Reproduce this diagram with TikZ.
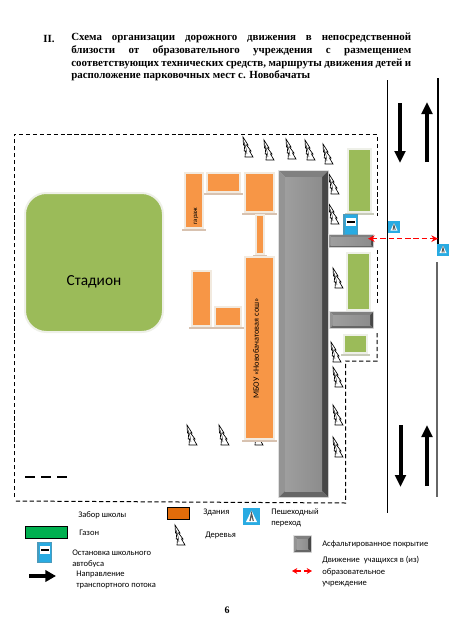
\documentclass[tikz,border=0pt]{standalone}
\usepackage{fontspec}
\usepackage{xcolor}
\setmainfont{Carlito}
\newfontfamily\headfont{Liberation Serif}
\usetikzlibrary{arrows.meta,positioning}
\definecolor{bldg}{HTML}{F79646}
\definecolor{bldgedge}{HTML}{F2EADF}
\definecolor{bldgfoot}{HTML}{D8C2B0}
\definecolor{lawn}{HTML}{9BBB59}
\definecolor{lawnedge}{HTML}{EEF0E8}
\definecolor{lawnfoot}{HTML}{C8CBBA}
\definecolor{signblue}{HTML}{29ABE2}
\definecolor{keylawn}{HTML}{00B050}
\definecolor{keybldg}{HTML}{E36C0A}
\newcommand{\asphalt}[5]{%
	\fill[black!12] (#1-1,#2-1) rectangle (#3+1,#4+1);
	\fill[black!50] (#1,#2) -- (#3,#2) -- (#3-#5,#2+#5) -- (#1+#5,#2+#5) -- cycle;
	\fill[black!42] (#1,#2) -- (#1+#5,#2+#5) -- (#1+#5,#4-#5) -- (#1,#4) -- cycle;
	\fill[black!72] (#3,#2) -- (#3-#5,#2+#5) -- (#3-#5,#4-#5) -- (#3,#4) -- cycle;
	\fill[black!60] (#1,#4) -- (#1+#5,#4-#5) -- (#3-#5,#4-#5) -- (#3,#4) -- cycle;
	\shade[left color=black!38, middle color=black!16, right color=black!45] (#1+#5,#2+#5) rectangle (#3-#5,#4-#5);
}
\begin{document}
\begin{tikzpicture}[
		x=0.75pt, y=-0.75pt,
		>=Stealth,
		fence/.style={draw, line width=0.75pt, dash pattern=on 3.2pt off 2pt},
		road/.style={draw, line width=1pt},
		traffic/.style={-{Triangle[length=9pt,width=8pt]}, line width=3pt},
		house/.style={draw=bldgedge, line width=2.2pt, fill=bldg},
		green/.style={draw=lawnedge, line width=2.2pt, fill=lawn},
		keytext/.style={anchor=west, inner sep=0pt, font=\fontsize{6.4}{8}\selectfont},
		schoolway/.style={{Stealth[length=5pt,width=5pt]}-{Stealth[length=5pt,width=5pt]}, draw=red, line width=1pt, dash pattern=on 4pt off 2.2pt},
		treeicon/.pic={
			\draw[fill=white, line width=0.5pt] (0,0) -- (5,8) -- (3.5,8) -- (8,14) -- (6.5,14) -- (10,20) -- (2,20) -- (2.5,14) -- (1.2,14) -- (1.8,8) -- (0.5,8) -- cycle;
			\draw[line width=0.3pt] (1,5) -- (3,11) -- (4,17);
		},
		crossing/.pic={
			\fill[signblue] (-6,-6) rectangle (6,6);
			\fill[white] (-3.6,3.6) -- (0,-4) -- (3.6,3.6) -- cycle;
			\draw[line width=0.7pt, gray!70!black] (-1,3) -- (0,-2) -- (1.2,3);
		},
		keycrossing/.pic={
			\fill[signblue] (-8.5,-8.5) rectangle (8.5,8.5);
			\fill[white] (-5.5,5.5) -- (0,-6) -- (5.5,5.5) -- cycle;
			\draw[line width=0.9pt, gray!70!black] (-1.5,4.5) -- (0,-3) -- (1.8,4.5);
		},
		busstop/.pic={
			\fill[signblue!60!gray] (-7.5,0) rectangle (7.5,21);
			\fill[signblue] (-6,1) rectangle (6,20);
			\fill[white] (-5,4) rectangle (5,12);
			\fill[black] (-4,7) rectangle (4,9);
		}
	]
	\useasboundingbox (0,0) rectangle (454,643);

	\node[inner sep=0pt, anchor=west, font=\headfont\bfseries\fontsize{8.2}{9.5}\selectfont] (item) at (43,38.5) {II.};
	\node[inner sep=0pt, anchor=north west, text width=255pt, align=justify, font=\headfont\bfseries\fontsize{8.2}{9.5}\selectfont] (title) at (71,33)
	{Схема организации дорожного движения в непосредственной\linebreak
		близости от образовательного учреждения с размещением\linebreak
		соответствующих технических средств, маршруты движения детей и\linebreak
		расположение парковочных мест с. Новобачаты};

	% fence
	\draw[fence] (14,497) -- (14,134.5) -- (377,134.5) -- (377,216);
	\draw[fence] (377,250) -- (377,305);
	\draw[fence] (377,333) -- (377,361) -- (345.5,361) -- (345.5,503) -- (14,501);

	% road
	\draw[road] (387.5,80) -- (387.5,513);
	\draw[road] (438,78) -- (438,250);
	\draw[road, draw=black!60] (437,262) -- (437,497);
	\draw[traffic] (400,103) -- (400,163);
	\draw[traffic] (427,162) -- (427,102);
	\draw[traffic] (400.5,425) -- (400.5,487);
	\draw[traffic] (427,486) -- (427,425);

	% stadium
	\draw[draw=lawnedge, line width=1.5pt, fill=lawn, rounded corners=16pt] (25,193) rectangle (163,332);
	\node[font=\fontsize{11.5}{13}\selectfont] (stadium) at (94,282) {Стадион};

	% trees
	\foreach \tx/\ty in {243/137,264/140,286/139,305/140,323/144,329/174,329/204,333/268,331/342,333/367,333/405,333/437,187/425,219/425,253/425}
		\pic at (\tx,\ty) {treeicon};

	% buildings
	\foreach \xa/\ya/\xb/\yb in {185/173/203/228,207/173/240/192,245/173/274/212,256/215/264/254,245/257/274/439,192/271/211/326,215/307/241/326} {
		\fill[bldgfoot] (\xa-3,\yb+1) rectangle (\xb+3,\yb+3);
		\draw[house] (\xa,\ya) rectangle (\xb,\yb);
	}
	\node[rotate=90, inner sep=0pt, font=\fontsize{5}{6}\selectfont] (garage) at (196,216) {гараж};
	\node[rotate=90, inner sep=0pt, font=\fontsize{6.2}{8}\selectfont] (school) at (256,348.5) {МБОУ «Новобачатовая сош»};

	% lawns
	\foreach \xa/\ya/\xb/\yb in {348/149/371/212,347/253/370/310,344/335/367/353} {
		\fill[lawnfoot] (\xa-3,\yb+1) rectangle (\xb+3,\yb+3);
		\draw[green] (\xa,\ya) rectangle (\xb,\yb);
	}

	% asphalt
	\asphalt{279}{171}{328}{497}{6}
	\asphalt{329}{235}{373}{247}{2}
	\asphalt{330}{312}{373}{328}{3}

	\pic at (350.5,214) {busstop};
	\pic at (394,227) {crossing};
	\pic at (443,249.5) {crossing};

	% school route
	\coordinate (routeA) at (368,238.7);
	\coordinate (routeB) at (438,238.7);
	\draw[schoolway] (routeA) -- (routeB);

	% legend
	\draw[line width=2pt, dash pattern=on 7.5pt off 4.5pt] (25,477) -- (67,477);
	\node[keytext] (keyfence) at (78,515) {Забор школы};
	\draw[fill=keybldg, line width=0.7pt] (167,507) rectangle (189,519);
	\node[keytext] (keyhouse) at (203,512.5) {Здания};
	\draw[fill=keylawn, line width=0.7pt] (25,526) rectangle (67,538);
	\node[keytext] (keylawn) at (79,533) {Газон};
	\pic at (175,525) {treeicon};
	\node[keytext] (keytree) at (205,535) {Деревья};
	\pic at (251.5,516.5) {keycrossing};
	\node[keytext] (keycross) at (271,512) {Пешеходный};
	\node[keytext] (keycrossb) at (271,524) {переход};
	\pic at (44.5,541.5) {busstop};
	\node[keytext] (keybus) at (72,553) {Остановка школьного};
	\node[keytext] (keybusb) at (72,564.5) {автобуса};
	\draw[-{Triangle[length=8pt,width=8.5pt]}, line width=2.6pt] (29,576) -- (56,576);
	\node[keytext, fill=white, minimum height=11pt, text width=60pt, align=left] (keyflow) at (76,574) {Направление};
	\node[keytext] (keyflowb) at (76,586) {транспортного потока};
	\asphalt{294}{536}{311}{552}{3}
	\node[keytext] (keyasph) at (322,544) {Асфальтированное покрытие};
	\node[keytext] (keymove) at (322,560) {Движение~ учащихся в (из)};
	\node[keytext] (keymoveb) at (322,572) {образовательное};
	\node[keytext] (keymovec) at (322,584) {учреждение};
	\coordinate (keyrouteA) at (292,571);
	\coordinate (keyrouteB) at (312,571);
	\draw[{Stealth[length=4pt,width=4.5pt]}-, draw=red, line width=0.9pt] (keyrouteA) -- (301,571);
	\draw[-{Stealth[length=4pt,width=4.5pt]}, draw=red, line width=0.9pt] (304,571) -- (keyrouteB);

	\node[font=\headfont\bfseries\fontsize{7.5}{9}\selectfont] (page) at (227,610) {6};
\end{tikzpicture}
\end{document}
